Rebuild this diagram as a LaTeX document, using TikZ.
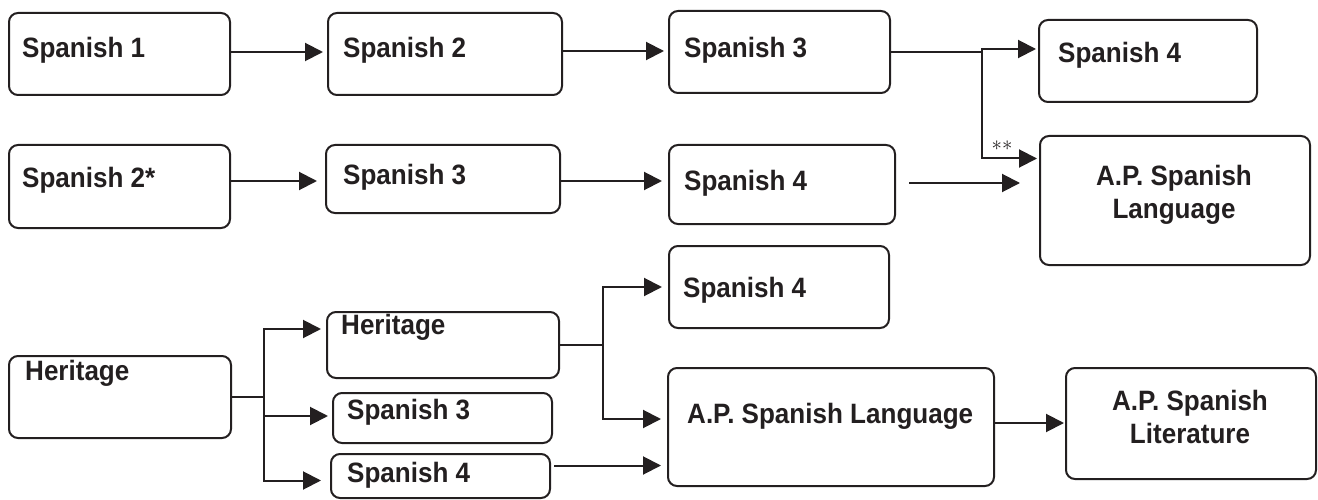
\documentclass[tikz,border=0pt]{standalone}
\usepackage{fontspec}
\setmainfont{Liberation Sans}[FakeStretch = 0.93]
\usetikzlibrary{arrows.meta}
\definecolor{ink}{RGB}{35,31,32}

\begin{document}
\begin{tikzpicture}[x = 1pt, y = -1pt, > = {Triangle[length = 18pt, width = 18pt]},
	box/.style = {draw = ink, line width = 2pt, rounded corners = 9pt, anchor = north west, inner sep = 0pt, outer sep = 0pt},
	txt/.style = {text = ink, font = \fontsize{28}{33}\selectfont\bfseries, inner sep = 0pt, anchor = base west},
	link/.style = {->, draw = ink, line width = 2pt}]

	\useasboundingbox (0, 0) rectangle (1318, 500);

	% First row

	\node [box, minimum width = 221pt, minimum height = 82pt] (sp1) at (9, 13) {};
	\node [box, minimum width = 234pt, minimum height = 82pt] (sp2) at (328, 13) {};
	\node [box, minimum width = 221pt, minimum height = 82pt] (sp3) at (669, 11) {};
	\node [box, minimum width = 218pt, minimum height = 82pt] (sp4) at (1039, 20) {};

	\node [txt] (sp1t) at (22, 58) {Spanish 1};
	\node [txt] (sp2t) at (343, 58) {Spanish 2};
	\node [txt] (sp3t) at (684, 58) {Spanish 3};
	\node [txt] (sp4t) at (1058, 63) {Spanish 4};

	% Second row

	\node [box, minimum width = 221pt, minimum height = 83pt] (sb2) at (9, 145) {};
	\node [box, minimum width = 234pt, minimum height = 68pt] (sb3) at (326, 145) {};
	\node [box, minimum width = 226pt, minimum height = 79pt] (sb4) at (669, 145) {};
	\node [box, minimum width = 270pt, minimum height = 129pt] (apr) at (1040, 136) {};

	\node [txt] (sb2t) at (22, 188) {Spanish 2*};
	\node [txt] (sb3t) at (343, 185) {Spanish 3};
	\node [txt] (sb4t) at (684, 191) {Spanish 4};
	\node [txt, anchor = center, align = center] (aprt) at (1174, 195) {A.P. Spanish\\Language};

	% Heritage track

	\node [box, minimum width = 222pt, minimum height = 82pt] (her) at (9, 356) {};
	\node [box, minimum width = 232pt, minimum height = 66pt] (hh) at (327, 312) {};
	\node [box, minimum width = 219pt, minimum height = 50pt] (hs3) at (333, 393) {};
	\node [box, minimum width = 219pt, minimum height = 44pt] (hs4) at (331, 454) {};
	\node [box, minimum width = 220pt, minimum height = 82pt] (hs4r) at (669, 246) {};
	\node [box, minimum width = 326pt, minimum height = 118pt] (apb) at (668, 368) {};
	\node [box, minimum width = 250pt, minimum height = 111pt] (apl) at (1066, 368) {};

	\node [txt] (hert) at (25, 380) {Heritage};
	\node [txt] (hht) at (341, 334) {Heritage};
	\node [txt] (hs3t) at (347, 419) {Spanish 3};
	\node [txt] (hs4t) at (347, 482) {Spanish 4};
	\node [txt] (hs4rt) at (683, 297) {Spanish 4};
	\node [txt] (apbt) at (687, 423) {A.P. Spanish Language};
	\node [txt, anchor = center, align = center] (aplt) at (1190, 417) {A.P. Spanish\\Literature};

	% Arrows, first and second row

	\draw [link, shorten > = 5pt] ([yshift = 2pt] sp1.east) -- ([yshift = 2pt] sp1.east -| sp2.west);
	\draw [link, shorten > = 5pt] ([yshift = 3pt] sp2.east) -- ([yshift = 3pt] sp2.east -| sp3.west);

	\coordinate (j1) at ([xshift = 92pt] sp3.east);
	\draw [draw = ink, line width = 2pt] (sp3.east) -- (j1);
	\draw [link, shorten > = 3pt] (j1) |- ([yshift = 12pt] sp4.west);
	\draw [link, shorten > = 3pt] (j1) |- ([yshift = 42pt] apr.west);
	\node [text = ink, font = \fontsize{20}{20}\selectfont, inner sep = 0pt] (stars) at (1002, 146) {$\ast\ast$};

	\draw [link, shorten > = 9pt] ([yshift = -2pt] sb3.west -| sb2.east) -- ([yshift = -2pt] sb3.west);
	\draw [link, shorten > = 7pt] ([yshift = -2pt] sb3.east) -- ([yshift = -2pt] sb3.east -| sb4.west);
	\draw [link, shorten < = 14pt, shorten > = 20pt] ([yshift = 1.5pt] sb4.east) -- ([yshift = 1.5pt] sb4.east -| apr.west);

	% Arrows, heritage track

	\coordinate (j2) at ([xshift = 33pt] her.east);
	\draw [draw = ink, line width = 2pt] (her.east) -- (j2);
	\draw [link, shorten > = 6pt] (j2) |- ([yshift = 16pt] hh.west);
	\draw [link, shorten > = 5pt] (j2) |- ([yshift = 2pt] hs3.west);
	\draw [link, shorten > = 10pt] (j2) |- ([yshift = -4.5pt] hs4.west);

	\coordinate (j3) at ([xshift = 44pt] hh.east);
	\draw [draw = ink, line width = 2pt] (hh.east) -- (j3);
	\draw [link, shorten > = 7pt] (j3) |- (hs4r.west);
	\draw [link, shorten > = 7pt] (j3) |- ([yshift = 8pt] apb.west);

	\draw [link, shorten < = 4pt, shorten > = 7pt] ([yshift = 10.5pt] hs4.east) -- ([yshift = 10.5pt] hs4.east -| apb.west);
	\draw [link, shorten > = 2pt] ([yshift = 4pt] apb.east) -- ([yshift = 4pt] apb.east -| apl.west);

\end{tikzpicture}
\end{document}
